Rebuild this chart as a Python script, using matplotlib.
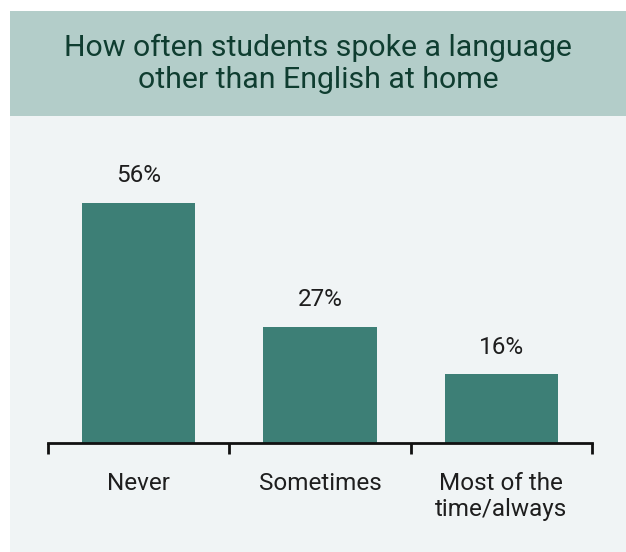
import matplotlib.pyplot as plt
from matplotlib.patches import Rectangle

categories = ["Never", "Sometimes", "Most of the\ntime/always"]
shares = [56, 27, 16]
title = "How often students spoke a language\nother than English at home"

W, H = 626, 552
fig = plt.figure(figsize=(W / 100, H / 100), dpi=100)
fig.patch.set_facecolor("white")
plt.rcParams["font.family"] = ["Roboto", "DejaVu Sans"]

# panel body and header band (pixel coordinates converted to figure fractions)
fig.patches.append(Rectangle((10 / W, 0), 1 - 10 / W, 1 - 11 / H,
                             transform=fig.transFigure, facecolor="#f0f4f5",
                             edgecolor="none", zorder=-2))
fig.patches.append(Rectangle((10 / W, 1 - 116 / H), 1 - 10 / W, 105 / H,
                             transform=fig.transFigure, facecolor="#b3cdc9",
                             edgecolor="none", zorder=-1))
fig.text((10 + W) / 2 / W, 1 - 64 / H, title, ha="center", va="center",
         fontsize=21.8, color="#0f3d30", linespacing=1.2)

ax = fig.add_axes([48 / W, 1 - 443 / H, 544 / W, 313 / H], zorder=2)
ax.set_facecolor("none")
x = range(len(categories))
ax.bar(x, shares, width=0.625, color="#3d7f76", zorder=2)
for xi, v in zip(x, shares):
    ax.text(xi, v + 3.7, f"{v}%", ha="center", va="bottom", fontsize=17.5,
            color="#1e1e1e")

ax.set_xlim(-0.5, 2.5)
ax.set_ylim(0, 73)
for s in ["top", "right", "left"]:
    ax.spines[s].set_visible(False)
ax.spines["bottom"].set_linewidth(2)
ax.spines["bottom"].set_color("#111111")
ax.set_yticks([])
ax.set_xticks(list(x))
ax.set_xticklabels(categories, fontsize=17.5, color="#1e1e1e", linespacing=1.14,
                   va="top")
ax.tick_params(axis="x", which="major", length=0, pad=21)
ax.set_xticks([-0.5, 0.5, 1.5, 2.5], minor=True)
ax.tick_params(axis="x", which="minor", length=8, width=2, color="#111111",
               direction="out")

fig.savefig("out.png", dpi=100)
